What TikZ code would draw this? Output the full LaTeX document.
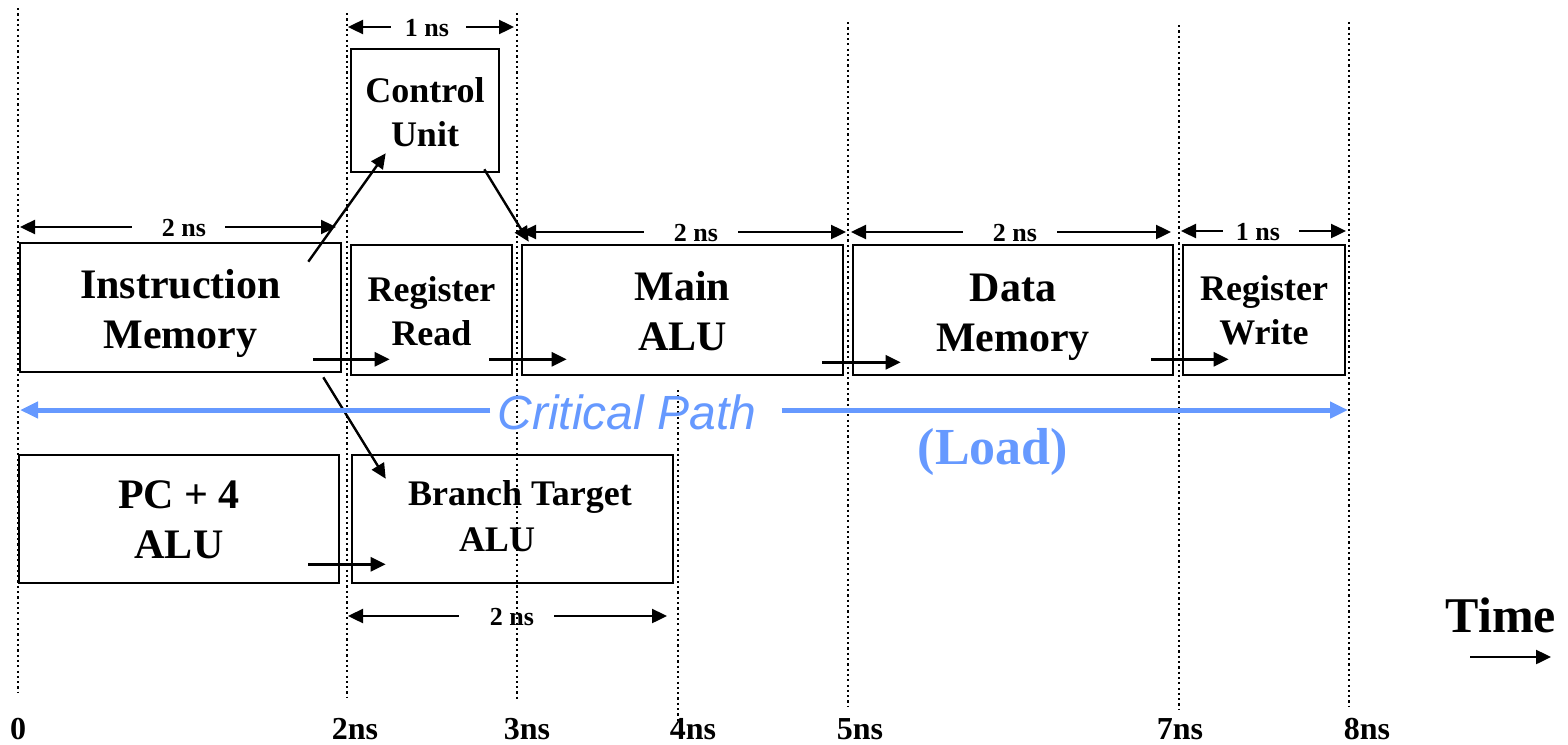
\documentclass[tikz,border=0pt]{standalone}
\usepackage{fontspec}
\setmainfont{Liberation Serif}
\newfontfamily\arialfont{Liberation Sans}
\usetikzlibrary{arrows.meta,calc}
\definecolor{critblue}{RGB}{102,153,255}
\begin{document}
\begin{tikzpicture}[x=1pt,y=-1pt,
  box/.style={draw, line width=2.6pt, inner sep=0pt, align=center},
  bigtxt/.style={font=\fontsize{42}{50}\selectfont\bfseries, align=center, inner sep=0pt},
  midtxt/.style={font=\fontsize{36}{44}\selectfont\bfseries, align=center, inner sep=0pt},
  flow/.style={line width=2.4pt, -{Triangle[length=15pt,width=14pt]}},
  dim/.style={line width=2.4pt, -{Triangle[length=15pt,width=14pt]}},
  dimlbl/.style={font=\fontsize{26}{30}\selectfont\bfseries, inner sep=0pt},
  tline/.style={line width=2.2pt, dash pattern=on 2.2pt off 3.1pt},
  tlbl/.style={font=\fontsize{32}{36}\selectfont\bfseries, inner sep=0pt},
  crit/.style={draw=critblue, line width=5pt, -{Triangle[length=18pt,width=16pt]}}
]
\useasboundingbox (0,0) rectangle (1568,744);

% time lines
\foreach \n/\x/\ya/\yb in {t0/18/8/693, t2/347/13/697, t3/517/13/700, t4/678/390/722, t5/848/22/707, t7/1179/25/710, t8/1349/22/707}{
  \coordinate (\n top) at (\x,\ya);
  \coordinate (\n bot) at (\x,\yb);
  \draw[tline] (\n top) -- (\n bot);
}

% time labels
\node[tlbl] (l0) at (18,729) {0};
\node[tlbl] (l2) at (355,729) {2ns};
\node[tlbl] (l3) at (527,729) {3ns};
\node[tlbl] (l4) at (693,729) {4ns};
\node[tlbl] (l5) at (860,729) {5ns};
\node[tlbl] (l7) at (1180,729) {7ns};
\node[tlbl] (l8) at (1367,729) {8ns};

% boxes
\node[box, minimum width=321pt, minimum height=129pt] (IM) at (180.5,307.5) {};
\node[bigtxt] (IMt) at ($(IM.center)+(0,6)$) {Instruction\\Memory};
\node[box, minimum width=161pt, minimum height=130pt] (RR) at (431.5,310) {};
\node[midtxt] (RRt) at ($(RR.center)+(0,1)$) {Register\\Read};
\node[box, minimum width=321pt, minimum height=130pt] (MALU) at (682.5,310) {};
\node[bigtxt] (MALUt) at ($(MALU.center)+(0,1)$) {Main\\ALU};
\node[box, minimum width=320pt, minimum height=130pt] (DM) at (1013,310) {};
\node[bigtxt] (DMt) at ($(DM.center)+(0,7)$) {Data\\Memory};
\node[box, minimum width=162pt, minimum height=130pt] (RW) at (1264,310) {};
\node[midtxt] (RWt) at ($(RW.center)+(0,0)$) {Register\\Write};
\node[box, minimum width=148pt, minimum height=123pt] (CU) at (425,110.5) {};
\node[midtxt] (CUt) at ($(CU.center)+(0,2)$) {Control\\Unit};
\node[box, minimum width=320pt, minimum height=128pt] (PC) at (179,519) {};
\node[bigtxt] (PCt) at ($(PC.center)+(0,1)$) {PC + 4\\ALU};
\node[box, minimum width=321pt, minimum height=128pt] (BTA) at (512.5,519) {};
\node[font=\fontsize{36}{44}\selectfont\bfseries, inner sep=0pt] (BTAt1) at (520,497) {Branch Target};
\node[font=\fontsize{36}{44}\selectfont\bfseries, inner sep=0pt] (BTAt2) at (497,540) {ALU};

% flow arrows
\draw[flow] ($(IM.south east)+(-29,-14)$) -- ($(RR.south west)+(40,-17)$);
\draw[flow] ($(RR.south east)+(-24,-17)$) -- ($(MALU.south west)+(46,-17)$);
\draw[flow] ($(MALU.south east)+(-22,-14)$) -- ($(DM.south west)+(49,-14)$);
\draw[flow] ($(DM.south east)+(-23,-17)$) -- ($(RW.south west)+(47,-17)$);
\draw[flow] ($(PC.south east)+(-32,-20)$) -- ($(BTA.south west)+(35,-20)$);
\draw[flow] ($(IM.north east)+(-34,20)$) -- ($(CU.south west)+(36,-20)$);
\draw[flow] ($(CU.south east)+(-16,-4)$) -- ($(MALU.north west)+(8,-2)$);
\draw[flow] ($(IM.south east)+(-19,4)$) -- ($(BTA.north west)+(35,25)$);

% dimension arrows
\node[dimlbl] (dIM) at (184,228) {2 ns};
\coordinate (dIMl) at (20,227); \coordinate (dIMr) at (336,227);
\draw[dim] ($(dIM.west)+(-30,-1)$) -- (dIMl);
\draw[dim] ($(dIM.east)+(19,-1)$) -- (dIMr);

\node[dimlbl] (dCU) at (427,28) {1 ns};
\coordinate (dCUl) at (348,27); \coordinate (dCUr) at (514,27);
\draw[dim] ($(dCU.west)+(-14,-1)$) -- (dCUl);
\draw[dim] ($(dCU.east)+(17,-1)$) -- (dCUr);

\node[dimlbl] (dMA) at (696,233) {2 ns};
\coordinate (dMAl) at (521,232); \coordinate (dMAr) at (846,232);
\draw[dim] ($(dMA.west)+(-30,-1)$) -- (dMAl);
\draw[dim] ($(dMA.east)+(20,-1)$) -- (dMAr);

\node[dimlbl] (dDM) at (1015,233) {2 ns};
\coordinate (dDMl) at (851,232); \coordinate (dDMr) at (1171,232);
\draw[dim] ($(dDM.west)+(-30,-1)$) -- (dDMl);
\draw[dim] ($(dDM.east)+(20,-1)$) -- (dDMr);

\node[dimlbl] (dRW) at (1258,232) {1 ns};
\coordinate (dRWl) at (1181,231); \coordinate (dRWr) at (1346,231);
\draw[dim] ($(dRW.west)+(-13,-1)$) -- (dRWl);
\draw[dim] ($(dRW.east)+(19,-1)$) -- (dRWr);

\node[dimlbl] (dBT) at (512,617) {2 ns};
\coordinate (dBTl) at (348,616); \coordinate (dBTr) at (667,616);
\draw[dim] ($(dBT.west)+(-31,-1)$) -- (dBTl);
\draw[dim] ($(dBT.east)+(20,-1)$) -- (dBTr);

% critical path
\node[font=\arialfont\itshape\fontsize{48}{56}\selectfont, text=critblue, inner sep=0pt] (cp) at (627,412) {Critical Path};
\coordinate (cpl) at (20,410); \coordinate (cpr) at (1348,410);
\draw[crit] ($(cp.west)+(-7,-2)$) -- (cpl);
\draw[crit] ($(cp.east)+(25,-2)$) -- (cpr);
\node[font=\fontsize{52}{58}\selectfont\bfseries, text=critblue, inner sep=0pt] (load) at (993,452) {(Load)};

% time
\node[font=\fontsize{50}{56}\selectfont\bfseries, inner sep=0pt] (time) at (1501,615) {Time};
\coordinate (ta) at (1470,657); \coordinate (tb) at (1551,657);
\draw[flow] (ta) -- (tb);
\end{tikzpicture}
\end{document}
